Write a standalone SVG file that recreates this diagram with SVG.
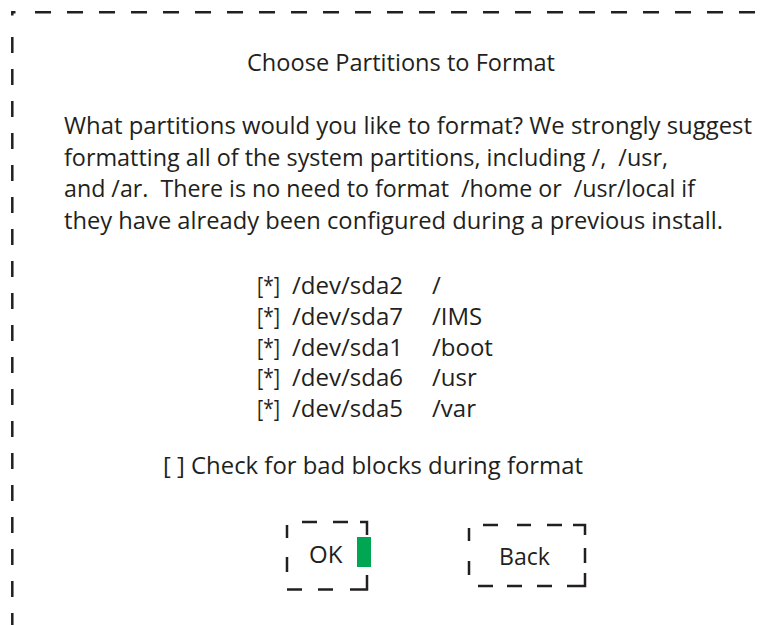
<svg xmlns="http://www.w3.org/2000/svg" width="771" height="625" viewBox="0 0 771 625">
  <style>
    .t { font-family: "Open Sans", "Noto Sans", "Liberation Sans", sans-serif; font-size: 24px; fill: #231f20; white-space: pre; }
    .dash { fill: none; stroke: #231f20; stroke-width: 2.5; }
    .frame { stroke-dasharray: 16 16; }
  </style>
  <rect width="771" height="625" fill="#ffffff"/>

  <!-- outer dialog frame (open on right and bottom) -->
  <g id="frame">
    <path class="dash" d="M12.3 15.5 V12.3 H15.5"/>
    <line class="dash frame" x1="35" y1="12.3" x2="771" y2="12.3"/>
    <line class="dash frame" x1="12.3" y1="37" x2="12.3" y2="625"/>
  </g>

  <g id="title">
    <text class="t" x="247" y="71" textLength="308" lengthAdjust="spacingAndGlyphs">Choose Partitions to Format</text>
  </g>

  <g id="message">
    <text class="t" x="64" y="134" textLength="688" lengthAdjust="spacingAndGlyphs">What partitions would you like to format? We strongly suggest</text>
    <text class="t" x="64" y="165.5" textLength="604" lengthAdjust="spacingAndGlyphs" xml:space="preserve">formatting all of the system partitions, including /,  /usr,</text>
    <text class="t" x="64" y="197" textLength="631" lengthAdjust="spacingAndGlyphs" xml:space="preserve">and /ar.  There is no need to format  /home or  /usr/local if</text>
    <text class="t" x="64" y="228.5" textLength="659" lengthAdjust="spacingAndGlyphs">they have already been configured during a previous install.</text>
  </g>

  <g id="partition-list">
    <text class="t" x="257" y="294" textLength="23" lengthAdjust="spacingAndGlyphs">[*]</text>
    <text class="t" x="292" y="294" textLength="111" lengthAdjust="spacingAndGlyphs">/dev/sda2</text>
    <text class="t" x="432" y="294">/</text>
    <text class="t" x="257" y="325" textLength="23" lengthAdjust="spacingAndGlyphs">[*]</text>
    <text class="t" x="292" y="325" textLength="111" lengthAdjust="spacingAndGlyphs">/dev/sda7</text>
    <text class="t" x="432" y="325">/IMS</text>
    <text class="t" x="257" y="355.5" textLength="23" lengthAdjust="spacingAndGlyphs">[*]</text>
    <text class="t" x="292" y="355.5" textLength="111" lengthAdjust="spacingAndGlyphs">/dev/sda1</text>
    <text class="t" x="432" y="355.5">/boot</text>
    <text class="t" x="257" y="386" textLength="23" lengthAdjust="spacingAndGlyphs">[*]</text>
    <text class="t" x="292" y="386" textLength="111" lengthAdjust="spacingAndGlyphs">/dev/sda6</text>
    <text class="t" x="432" y="386">/usr</text>
    <text class="t" x="257" y="417" textLength="23" lengthAdjust="spacingAndGlyphs">[*]</text>
    <text class="t" x="292" y="417" textLength="111" lengthAdjust="spacingAndGlyphs">/dev/sda5</text>
    <text class="t" x="432" y="417">/var</text>
  </g>

  <g id="badblocks-option">
    <text class="t" x="163" y="474" textLength="420" lengthAdjust="spacingAndGlyphs">[ ] Check for bad blocks during format</text>
  </g>

  <g id="ok-button">
    <path class="dash" d="M302 522 H317 M333 522 H348 M360 522 H367 V535
                          M287 525 V538 M287 557 V572
                          M287 589.5 H302 M318 589.5 H333 M350 589.5 H367 V575"/>
    <text class="t" x="309" y="563">OK</text>
    <rect x="357" y="537" width="14" height="30" fill="#00a651"/>
  </g>

  <g id="back-button">
    <path class="dash" d="M483 525 H498 M517 525 H531 M547 525 H562 M573 525 H585 V535
                          M585 548 V563
                          M469 528 V541 M469 561 V575
                          M478 586 H493 M507 586 H522 M537 586 H552 M567 586 H585 V573"/>
    <text class="t" x="499" y="565" textLength="51" lengthAdjust="spacingAndGlyphs">Back</text>
  </g>
</svg>
